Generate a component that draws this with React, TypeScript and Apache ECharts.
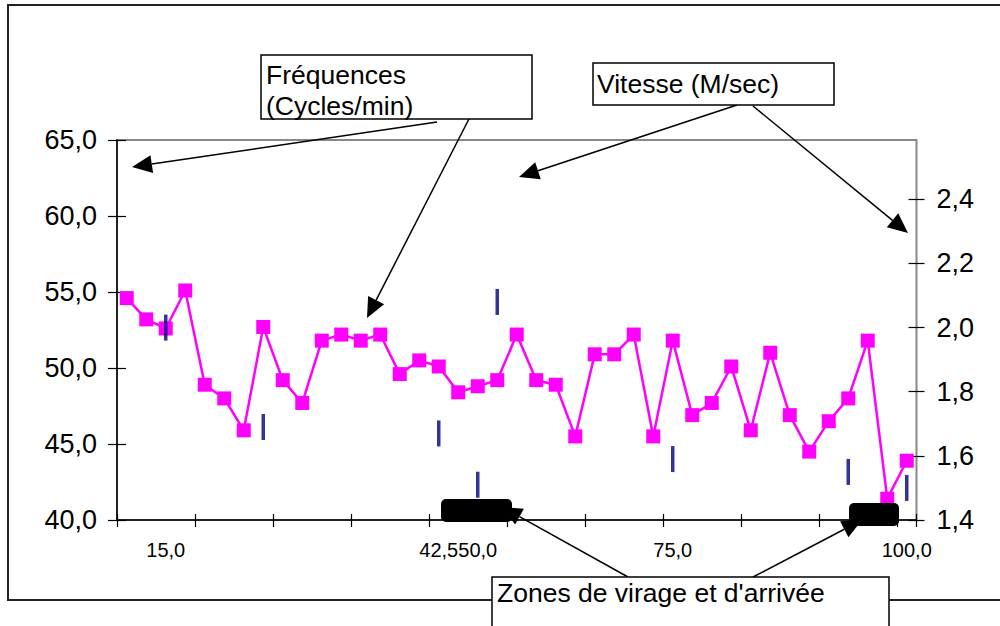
import React, { useEffect, useRef } from "react";
import * as echarts from "echarts";

// Category labels (41 positions along the swim)
const categories: string[] = [
  "", "", "15,0", "", "", "", "", "", "", "", "",
  "", "", "", "", "", "42,5", "", "50,0", "", "",
  "", "", "", "", "", "", "", "75,0", "", "",
  "", "", "", "", "", "", "", "", "", "100,0",
];

// Fréquences (cycles/min) – left axis
const frequences: number[] = [
  54.6, 53.2, 52.6, 55.1, 48.9, 48.0, 45.9, 52.7, 49.2, 47.7, 51.8,
  52.2, 51.8, 52.2, 49.6, 50.5, 50.1, 48.4, 48.8, 49.2, 52.2,
  49.2, 48.9, 45.5, 50.9, 50.9, 52.2, 45.5, 51.8, 46.9, 47.7,
  50.1, 45.9, 51.0, 46.9, 44.5, 46.5, 48.0, 51.8, 41.4, 43.9,
];

// Vitesse (m/s) – right axis, only measured at some positions
const vitesse: (number | string)[] = [
  "-", "-", 2.0, "-", "-", "-", "-", 1.69, "-", "-", "-",
  "-", "-", "-", "-", "-", 1.67, "-", 1.51, 2.08, "-",
  "-", "-", "-", "-", "-", "-", "-", 1.59, "-", "-",
  "-", "-", "-", "-", "-", "-", 1.55, "-", "-", 1.5,
];

const leftMin = 40;
const leftMax = 65;
const leftInterval = 5;
const rightMin = 1.4;
const rightMax = 2.585;
const rightTicks: number[] = [1.4, 1.6, 1.8, 2.0, 2.2, 2.4];

const FONT = 'Arial, "Liberation Sans", sans-serif';

function arrow(x1: number, y1: number, x2: number, y2: number): any[] {
  const dx = x2 - x1;
  const dy = y2 - y1;
  const len = Math.sqrt(dx * dx + dy * dy);
  const ux = dx / len;
  const uy = dy / len;
  const hl = 20;
  const hw = 9;
  const bx = x2 - ux * hl;
  const by = y2 - uy * hl;
  const px = -uy * hw;
  const py = ux * hw;
  return [
    {
      type: "line",
      z: 100,
      shape: { x1, y1, x2: bx, y2: by },
      style: { stroke: "#000", lineWidth: 1.5 },
    },
    {
      type: "polygon",
      z: 100,
      shape: { points: [[x2, y2], [bx + px, by + py], [bx - px, by - py]] },
      style: { fill: "#000" },
    },
  ];
}

function textBox(x: number, y: number, w: number, h: number, lines: { t: string; x: number; y: number }[], z: number): any[] {
  const els: any[] = [
    {
      type: "rect",
      z,
      shape: { x, y, width: w, height: h },
      style: { fill: "#fff", stroke: "#000", lineWidth: 1.5 },
    },
  ];
  lines.forEach((l) => {
    els.push({
      type: "text",
      z: z + 1,
      x: l.x,
      y: l.y,
      style: {
        text: l.t,
        fontSize: 26.5,
        fontFamily: FONT,
        fill: "#000",
        align: "left",
        verticalAlign: "middle",
      },
    });
  });
  return els;
}

const fmt1 = (v: number) => v.toFixed(1).replace(".", ",");

export default function App() {
  const ref = useRef<HTMLDivElement>(null);

  useEffect(() => {
    if (!ref.current) return;
    const chart = echarts.init(ref.current, undefined, { renderer: "svg" });

    const graphics: any[] = [
      {
        type: "rect",
        z: 1,
        shape: { x: 8, y: 5, width: 1000, height: 595 },
        style: { fill: "none", stroke: "#222", lineWidth: 2 },
      },
      ...arrow(437, 122, 132, 167),
      ...arrow(471, 115, 367, 318),
      ...arrow(737, 105, 519, 177),
      ...arrow(753, 106, 908, 233),
      ...arrow(628, 577, 502, 507),
      ...arrow(753, 577, 862, 520),
      {
        type: "rect",
        z: 110,
        shape: { x: 441, y: 499, width: 71, height: 23, r: 5 },
        style: { fill: "#000" },
      },
      {
        type: "rect",
        z: 110,
        shape: { x: 849, y: 503, width: 50, height: 23, r: 5 },
        style: { fill: "#000" },
      },
      ...textBox(261, 55, 271, 64, [
        { t: "Fréquences", x: 266, y: 75 },
        { t: "(Cycles/min)", x: 266, y: 106 },
      ], 120),
      ...textBox(593, 63, 241, 42, [{ t: "Vitesse (M/sec)", x: 597, y: 84 }], 120),
      ...textBox(492, 577, 397, 60, [{ t: "Zones de virage et d'arrivée", x: 497, y: 593 }], 120),
    ];

    const option: any = {
      animation: false,
      backgroundColor: "#fff",
      grid: {
        left: 117,
        right: 83.5,
        top: 140,
        bottom: 106,
        show: true,
        borderColor: "#888",
        borderWidth: 2,
        backgroundColor: "transparent",
      },
      xAxis: [
        {
          type: "category",
          position: "bottom",
          data: categories,
          boundaryGap: true,
          axisLine: { show: true, lineStyle: { color: "#000", width: 1.5 } },
          axisTick: { show: true, interval: 3, alignWithLabel: false, length: 7, lineStyle: { color: "#000", width: 1.2 } },
          axisLabel: { interval: 0, margin: 20, fontSize: 20, fontFamily: FONT, color: "#000", hideOverlap: false },
          splitLine: { show: false },
        },
        {
          type: "category",
          position: "bottom",
          data: categories,
          boundaryGap: true,
          axisLine: { show: false },
          axisTick: { show: true, inside: true, interval: 3, alignWithLabel: false, length: 6, lineStyle: { color: "#000", width: 1.2 } },
          axisLabel: { show: false },
          splitLine: { show: false },
        },
      ],
      yAxis: [
        {
          type: "value",
          position: "left",
          min: leftMin,
          max: leftMax,
          interval: leftInterval,
          axisLine: { show: true, lineStyle: { color: "#000", width: 1.5 } },
          axisTick: { show: true, length: 9, lineStyle: { color: "#000", width: 1.2 } },
          axisLabel: { margin: 20, fontSize: 27, fontFamily: FONT, color: "#000", formatter: (v: number) => fmt1(v) },
          splitLine: { show: false },
        },
        {
          type: "value",
          position: "right",
          min: rightMin,
          max: rightMax,
          interval: 0.2,
          axisLine: { show: false },
          axisTick: { show: true, length: 8, customValues: rightTicks, lineStyle: { color: "#000", width: 1.2 } },
          axisLabel: {
            margin: 20,
            fontSize: 27,
            fontFamily: FONT,
            color: "#000",
            customValues: rightTicks,
            formatter: (v: number) => (v > 2.45 ? "" : fmt1(v)),
          },
          splitLine: { show: false },
        },
        {
          type: "value",
          position: "left",
          min: leftMin,
          max: leftMax,
          interval: leftInterval,
          axisLine: { show: false },
          axisTick: { show: true, inside: true, length: 9, lineStyle: { color: "#000", width: 1.2 } },
          axisLabel: { show: false },
          splitLine: { show: false },
        },
        {
          type: "value",
          position: "right",
          min: rightMin,
          max: rightMax,
          interval: 0.2,
          axisLine: { show: false },
          axisTick: { show: true, inside: true, length: 8, customValues: rightTicks, lineStyle: { color: "#000", width: 1.2 } },
          axisLabel: { show: false },
          splitLine: { show: false },
        },
      ],
      series: [
        {
          name: "Fréquences",
          type: "line",
          xAxisIndex: 0,
          yAxisIndex: 0,
          data: frequences,
          symbol: "rect",
          symbolSize: 14,
          lineStyle: { color: "#FF00FF", width: 2.5 },
          itemStyle: { color: "#FF00FF" },
          z: 3,
        },
        {
          name: "Vitesse",
          type: "scatter",
          xAxisIndex: 0,
          yAxisIndex: 1,
          data: vitesse,
          symbol: "rect",
          symbolSize: [3.5, 26],
          itemStyle: { color: "#000080" },
          z: 4,
        },
      ],
      graphic: { elements: graphics },
    };

    chart.setOption(option);
    return () => chart.dispose();
  }, []);

  return (
    <div
      ref={ref}
      style={{ position: "absolute", left: 0, top: 0, width: 1000, height: 626 }}
    />
  );
}
